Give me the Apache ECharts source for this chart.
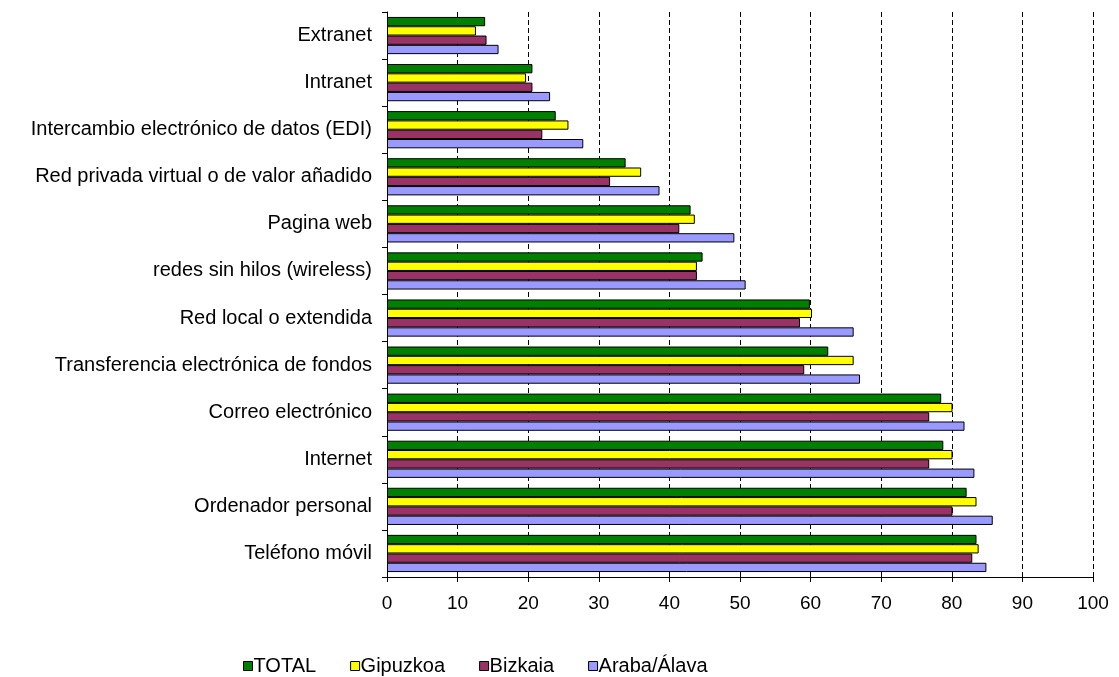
<!DOCTYPE html>
<html>
<head>
<meta charset="utf-8">
<script src="https://cdn.jsdelivr.net/npm/echarts@6/dist/echarts.min.js"></script>
<style>html,body{margin:0;padding:0;background:#fff}#c{width:1119px;height:677px}</style>
</head>
<body>
<div id="c"></div>
<script>
const categories = ["Extranet","Intranet","Intercambio electrónico de datos (EDI)","Red privada virtual o de valor añadido","Pagina web","redes sin hilos (wireless)","Red local o extendida","Transferencia electrónica de fondos","Correo electrónico","Internet","Ordenador personal","Teléfono móvil"];
const seriesNames = ["TOTAL","Gipuzkoa","Bizkaia","Araba/Álava"];
const totalValues = [13.9,20.6,23.9,33.8,43.0,44.7,59.9,62.5,78.5,78.8,82.1,83.5];
const gipuzkoaValues = [12.6,19.7,25.7,36.0,43.6,43.9,60.2,66.1,80.1,80.1,83.5,83.8];
const bizkaiaValues = [14.1,20.6,22.0,31.6,41.4,43.9,58.5,59.1,76.8,76.8,80.1,82.9];
const arabaValues = [15.8,23.1,27.8,38.6,49.2,50.8,66.1,67.0,81.8,83.2,85.8,84.9];
const xTicks = [0,10,20,30,40,50,60,70,80,90,100];
const colors = ["#008000","#FFFF00","#993366","#9999FF"];
const allValues = [totalValues,gipuzkoaValues,bizkaiaValues,arabaValues];

const chart = echarts.init(document.getElementById('c'), null, {renderer:'canvas'});
const font = 'Liberation Sans, Arial, sans-serif';
chart.setOption({
  animation:false,
  backgroundColor:'#fff',
  grid:{left:387,right:26,top:12,bottom:100,containLabel:false},
  legend:{
    top:651, left:238,
    itemWidth:9,itemHeight:9,itemGap:34,
    icon:'rect',
    textStyle:{fontFamily:font,fontSize:20,color:'#000',padding:[0,0,0,-4]},
    itemStyle:{borderColor:'#000',borderWidth:1},
    data:seriesNames
  },
  xAxis:{
    type:'value',min:xTicks[0],max:xTicks[xTicks.length-1],interval:10,
    axisLine:{show:true,lineStyle:{color:'#000',width:1}},
    axisTick:{show:true,length:5,lineStyle:{color:'#000'}},
    axisLabel:{fontFamily:font,fontSize:19,color:'#000',margin:17},
    splitLine:{show:true,lineStyle:{color:'#000',type:[5,3],width:1}}
  },
  yAxis:{
    type:'category',data:categories,inverse:true,
    axisLine:{show:true,lineStyle:{color:'#000',width:1}},
    axisTick:{show:true,length:5,lineStyle:{color:'#000'}},
    axisLabel:{fontFamily:font,fontSize:20,color:'#000',margin:15},
    splitLine:{show:false}
  },
  series: seriesNames.map((n,i)=>({
    name:n,type:'bar',data:allValues[i],
    barGap:'0%',barCategoryGap:'21%',
    itemStyle:{color:colors[i],borderColor:'#000',borderWidth:1}
  }))
});
</script>
</body>
</html>
